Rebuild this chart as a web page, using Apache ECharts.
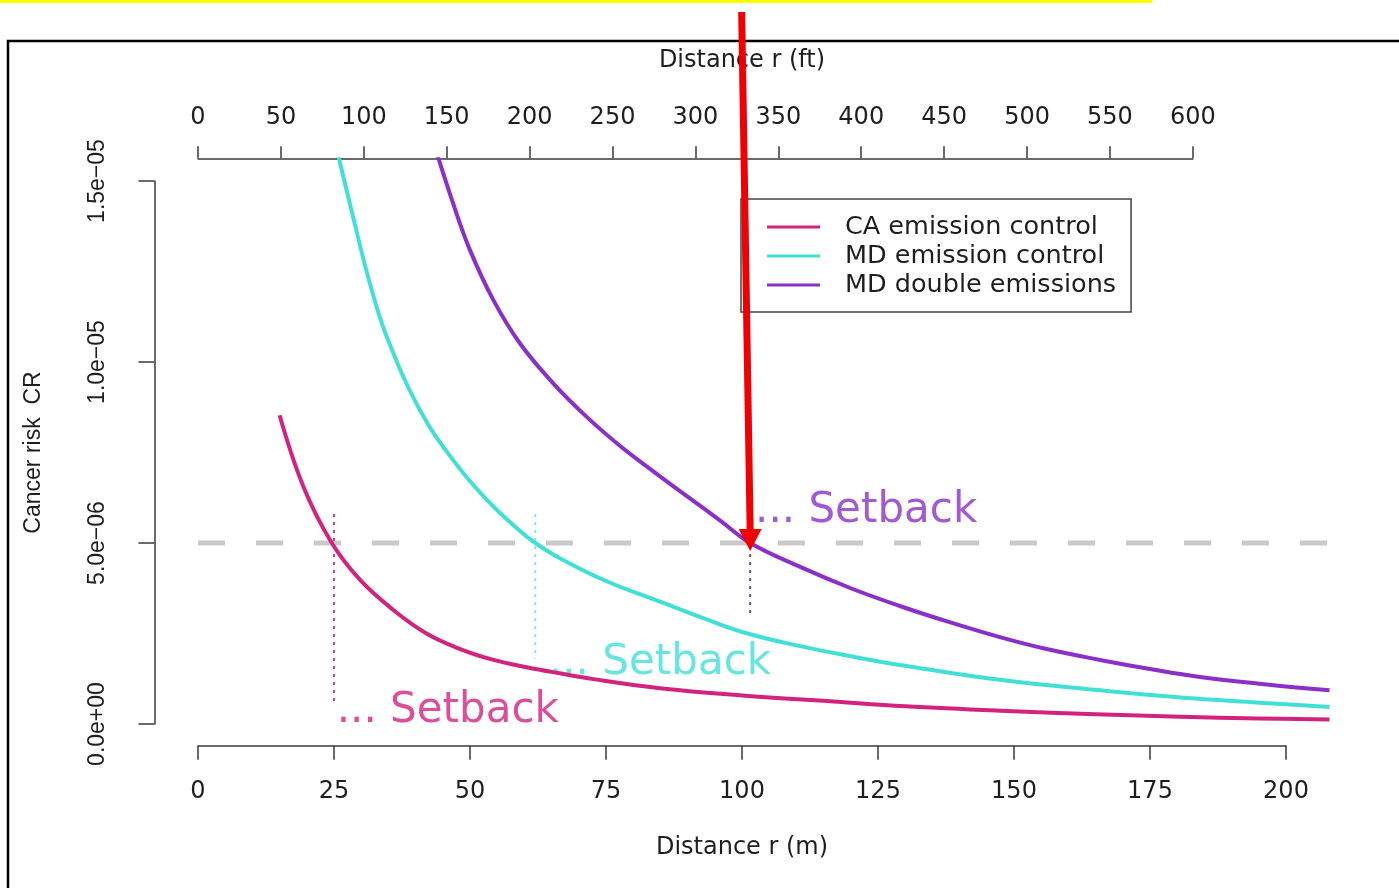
<!DOCTYPE html>
<html>
<head>
<meta charset="utf-8">
<title>Cancer risk vs distance</title>
<script src="https://cdn.jsdelivr.net/npm/echarts@6.0.0/dist/echarts.min.js"></script>
<style>
  html, body { margin: 0; padding: 0; background: #fff; }
  #chart { width: 1399px; height: 888px; }
</style>
</head>
<body>
<div id="chart"></div>
<script>
// values (distance in m, cancer risk CR)
var caDist = [15, 19.4, 24.6, 29.8, 35.9, 42, 48.2, 54.3, 60.4, 66.5, 72.7, 84.9, 100, 116.8, 130, 148.7, 165, 180.6, 195, 208]
var caRisk = [8.53e-6, 6.55e-6, 5.0e-6, 3.98e-6, 3.15e-6, 2.5e-6, 2.07e-6, 1.77e-6, 1.57e-6, 1.40e-6, 1.24e-6, 9.9e-7, 7.9e-7, 6.2e-7, 4.9e-7, 3.6e-7, 2.7e-7, 2.0e-7, 1.55e-7, 1.25e-7]

var mdDist = [25, 28.5, 31.6, 34.7, 40.8, 46.9, 53.1, 59.2, 62, 66.5, 75, 84.9, 94, 101, 110.7, 120, 129, 147.4, 165.8, 180.6, 195, 208]
var mdRisk = [1.62e-5, 1.401e-5, 1.217e-5, 1.07e-5, 8.67e-6, 7.29e-6, 6.19e-6, 5.33e-6, 5.0e-6, 4.58e-6, 3.95e-6, 3.38e-6, 2.86e-6, 2.5e-6, 2.15e-6, 1.87e-6, 1.63e-6, 1.22e-6, 9.3e-7, 7.3e-7, 5.9e-7, 4.7e-7]

var dblDist = [43, 46.9, 50, 54.3, 59.2, 65.3, 71.4, 77.6, 83.7, 89.8, 96, 101.5, 110.7, 120, 129, 138, 147.4, 156, 165.8, 175, 184.2, 196, 208]
var dblRisk = [1.62e-5, 1.438e-5, 1.309e-5, 1.171e-5, 1.051e-5, 9.41e-6, 8.49e-6, 7.68e-6, 6.98e-6, 6.30e-6, 5.62e-6, 5.0e-6, 4.34e-6, 3.75e-6, 3.26e-6, 2.82e-6, 2.40e-6, 2.07e-6, 1.77e-6, 1.52e-6, 1.30e-6, 1.10e-6, 9.3e-7]

var seriesNames = ['CA emission control', 'MD emission control', 'MD double emissions']

// risk threshold and setback distances (m)
var riskLimit = 5e-6
var setbackM = [25, 62, 101.5]
var setbackTop = 5.8e-6
var setbackBottom = [5.2e-7, 1.8e-6, 2.96e-6]

// tick labels
var xTicksM = [0, 25, 50, 75, 100, 125, 150, 175, 200]
var xTicksFt = [0, 50, 100, 150, 200, 250, 300, 350, 400, 450, 500, 550, 600]
var yTicks = [0, 5e-6, 1e-5, 1.5e-5]
var yTickLabels = ['0.0e+00', '5.0e\u221206', '1.0e\u221205', '1.5e\u221205']

// ---- layout (pixels) ----
var W = 1399, H = 888
var x0px = 198, x200px = 1286, y0px = 724, yTopPx = 181
var pxPerM = (x200px - x0px) / 200
var pxPerRisk = (y0px - yTopPx) / 1.5e-5
var xMin = -8, xMax = 208, yMin = -6e-7, yMax = 1.56e-5
var plot = {
  left: x0px + xMin * pxPerM,
  right: W - (x0px + xMax * pxPerM),
  top: y0px - yMax * pxPerRisk,
  bottom: H - (y0px - yMin * pxPerRisk)
}
var ftRightPx = x0px + xTicksFt[xTicksFt.length - 1] * 0.3048 * pxPerM

var colors = ['#d2237e', '#40e0d6', '#8b2fc9']
var dotColors = ['#c8417e', '#8fe3df', '#6d4f8c']
var axisColor = '#3a3a3a'
var txt = '#1e1e1e'
var wideFont = 'DejaVu Sans'
var rFont = 'Liberation Sans'

function pairs(xs, ys) {
  return xs.map(function (x, i) { return [x, ys[i]] })
}

var myChart = echarts.init(document.getElementById('chart'))

var series = []

// threshold line
series.push({
  type: 'line',
  xAxisIndex: 0, yAxisIndex: 0,
  data: [[0, riskLimit], [xMax, riskLimit]],
  symbol: 'none', silent: true, z: 1,
  lineStyle: { color: '#c9c9c9', width: 5, type: [27, 31] }
})

// setback dotted verticals
setbackM.forEach(function (m, i) {
  series.push({
    type: 'line',
    xAxisIndex: 0, yAxisIndex: 0,
    data: [[m, setbackTop], [m, setbackBottom[i]]],
    symbol: 'none', silent: true, z: 2,
    lineStyle: { color: dotColors[i], width: 2, type: [3, 5] }
  })
})

// "... Setback" labels
var labelAnchor = [
  [setbackM[0] + 0.5, 3.6e-7],
  [setbackM[1] + 2.5, 1.69e-6],
  [setbackM[2] + 0.9, 5.89e-6]
]
series.push({
  type: 'scatter',
  xAxisIndex: 0, yAxisIndex: 0,
  symbolSize: 0, silent: true, z: 2,
  data: labelAnchor.map(function (p, i) {
    return {
      value: p,
      label: { color: colors[i] }
    }
  }),
  label: {
    show: true,
    position: 'right',
    distance: 0,
    formatter: '... Setback',
    fontFamily: wideFont,
    fontSize: 42
  }
})

// the three risk curves
var curveData = [pairs(caDist, caRisk), pairs(mdDist, mdRisk), pairs(dblDist, dblRisk)]
curveData.forEach(function (d, i) {
  series.push({
    name: seriesNames[i],
    type: 'line',
    xAxisIndex: 0, yAxisIndex: 0,
    data: d,
    symbol: 'none',
    smooth: 0.4,
    clip: true,
    z: 3,
    itemStyle: { color: colors[i] },
    lineStyle: { color: colors[i], width: 4, join: 'round' }
  })
})

var option = {
  animation: false,
  backgroundColor: '#fff',
  grid: [
    { left: plot.left, right: plot.right, top: plot.top, bottom: plot.bottom },
    { left: x0px, right: W - x200px, top: plot.top, bottom: plot.bottom },
    { left: x0px, right: W - ftRightPx, top: plot.top - 1, bottom: plot.bottom },
    { left: plot.left, right: plot.right, top: yTopPx, bottom: H - y0px }
  ],
  xAxis: [
    {
      // data axis (hidden), only carries the top title centred on the plot
      gridIndex: 0, type: 'value', min: xMin, max: xMax, position: 'top',
      name: 'Distance r (ft)', nameLocation: 'middle', nameGap: 87,
      nameTextStyle: { fontFamily: wideFont, fontSize: 24, color: txt },
      axisLine: { show: false }, axisTick: { show: false },
      axisLabel: { show: false }, splitLine: { show: false }
    },
    {
      gridIndex: 1, type: 'value', position: 'bottom',
      min: xTicksM[0], max: xTicksM[xTicksM.length - 1], interval: xTicksM[1] - xTicksM[0],
      name: 'Distance r (m)', nameLocation: 'middle', nameGap: 90,
      nameTextStyle: { fontFamily: wideFont, fontSize: 24, color: txt },
      axisLine: { show: true, onZero: false, lineStyle: { color: axisColor, width: 1.5 } },
      axisTick: { show: true, inside: false, length: 14, lineStyle: { color: axisColor, width: 1.5 } },
      axisLabel: { margin: 34, fontFamily: wideFont, fontSize: 24, color: txt },
      splitLine: { show: false }
    },
    {
      gridIndex: 2, type: 'value', position: 'top',
      min: xTicksFt[0], max: xTicksFt[xTicksFt.length - 1], interval: xTicksFt[1] - xTicksFt[0],
      axisLine: { show: true, onZero: false, lineStyle: { color: axisColor, width: 1.5 } },
      axisTick: { show: true, inside: false, length: 12, lineStyle: { color: axisColor, width: 1.5 } },
      axisLabel: { margin: 29, fontFamily: wideFont, fontSize: 24, color: txt },
      splitLine: { show: false }
    },
    { gridIndex: 3, type: 'value', show: false }
  ],
  yAxis: [
    { gridIndex: 0, type: 'value', min: yMin, max: yMax, show: false },
    { gridIndex: 1, type: 'value', show: false },
    { gridIndex: 2, type: 'value', show: false },
    {
      gridIndex: 3, type: 'value', position: 'left',
      min: yTicks[0], max: yTicks[yTicks.length - 1], interval: yTicks[1] - yTicks[0],
      name: 'Cancer risk  CR', nameLocation: 'middle', nameGap: 109, nameRotate: 90,
      nameTextStyle: { fontFamily: rFont, fontSize: 23, color: txt },
      axisLine: { show: true, onZero: false, lineStyle: { color: axisColor, width: 1.5 } },
      axisTick: { show: true, inside: false, length: 16, lineStyle: { color: axisColor, width: 1.5 } },
      axisLabel: {
        rotate: 90, margin: 45, fontFamily: rFont, fontSize: 23, color: txt,
        formatter: function (v) {
          var k = Math.round(v / (yTicks[1] - yTicks[0]))
          return yTickLabels[k]
        }
      },
      splitLine: { show: false }
    }
  ],
  legend: {
    data: seriesNames,
    orient: 'vertical',
    left: 741, top: 199,
    padding: [15, 15, 14, 26],
    icon: 'rect',
    itemWidth: 53, itemHeight: 3, itemGap: 3,
    backgroundColor: '#fff',
    borderColor: '#444', borderWidth: 1.5,
    textStyle: { fontFamily: wideFont, fontSize: 25.5, color: txt, padding: [0, 0, 0, 20] }
  },
  series: series
}

option && myChart.setOption(option)

// page decorations: highlight bar, frame and the red arrow pointing at the purple setback
var tip = myChart.convertToPixel({ gridIndex: 0 }, [setbackM[2], riskLimit])
var tipX = tip[0], tipY = tip[1] + 8
myChart.setOption({
  graphic: [
    { type: 'rect', z: 100, shape: { x: 0, y: 0, width: 1152, height: 3 }, style: { fill: '#ffff00' } },
    { type: 'rect', z: 100, shape: { x: 8, y: 41, width: 1420, height: 900 }, style: { fill: 'none', stroke: '#000', lineWidth: 2.5 } },
    { type: 'line', z: 101, shape: { x1: tipX - 8.5, y1: 12, x2: tipX, y2: tipY - 20 }, style: { stroke: '#f00000', lineWidth: 7 } },
    { type: 'polygon', z: 101, shape: { points: [[tipX - 11.5, tipY - 22], [tipX + 11.5, tipY - 22], [tipX, tipY]] }, style: { fill: '#f00000' } }
  ]
})
</script>
</body>
</html>
